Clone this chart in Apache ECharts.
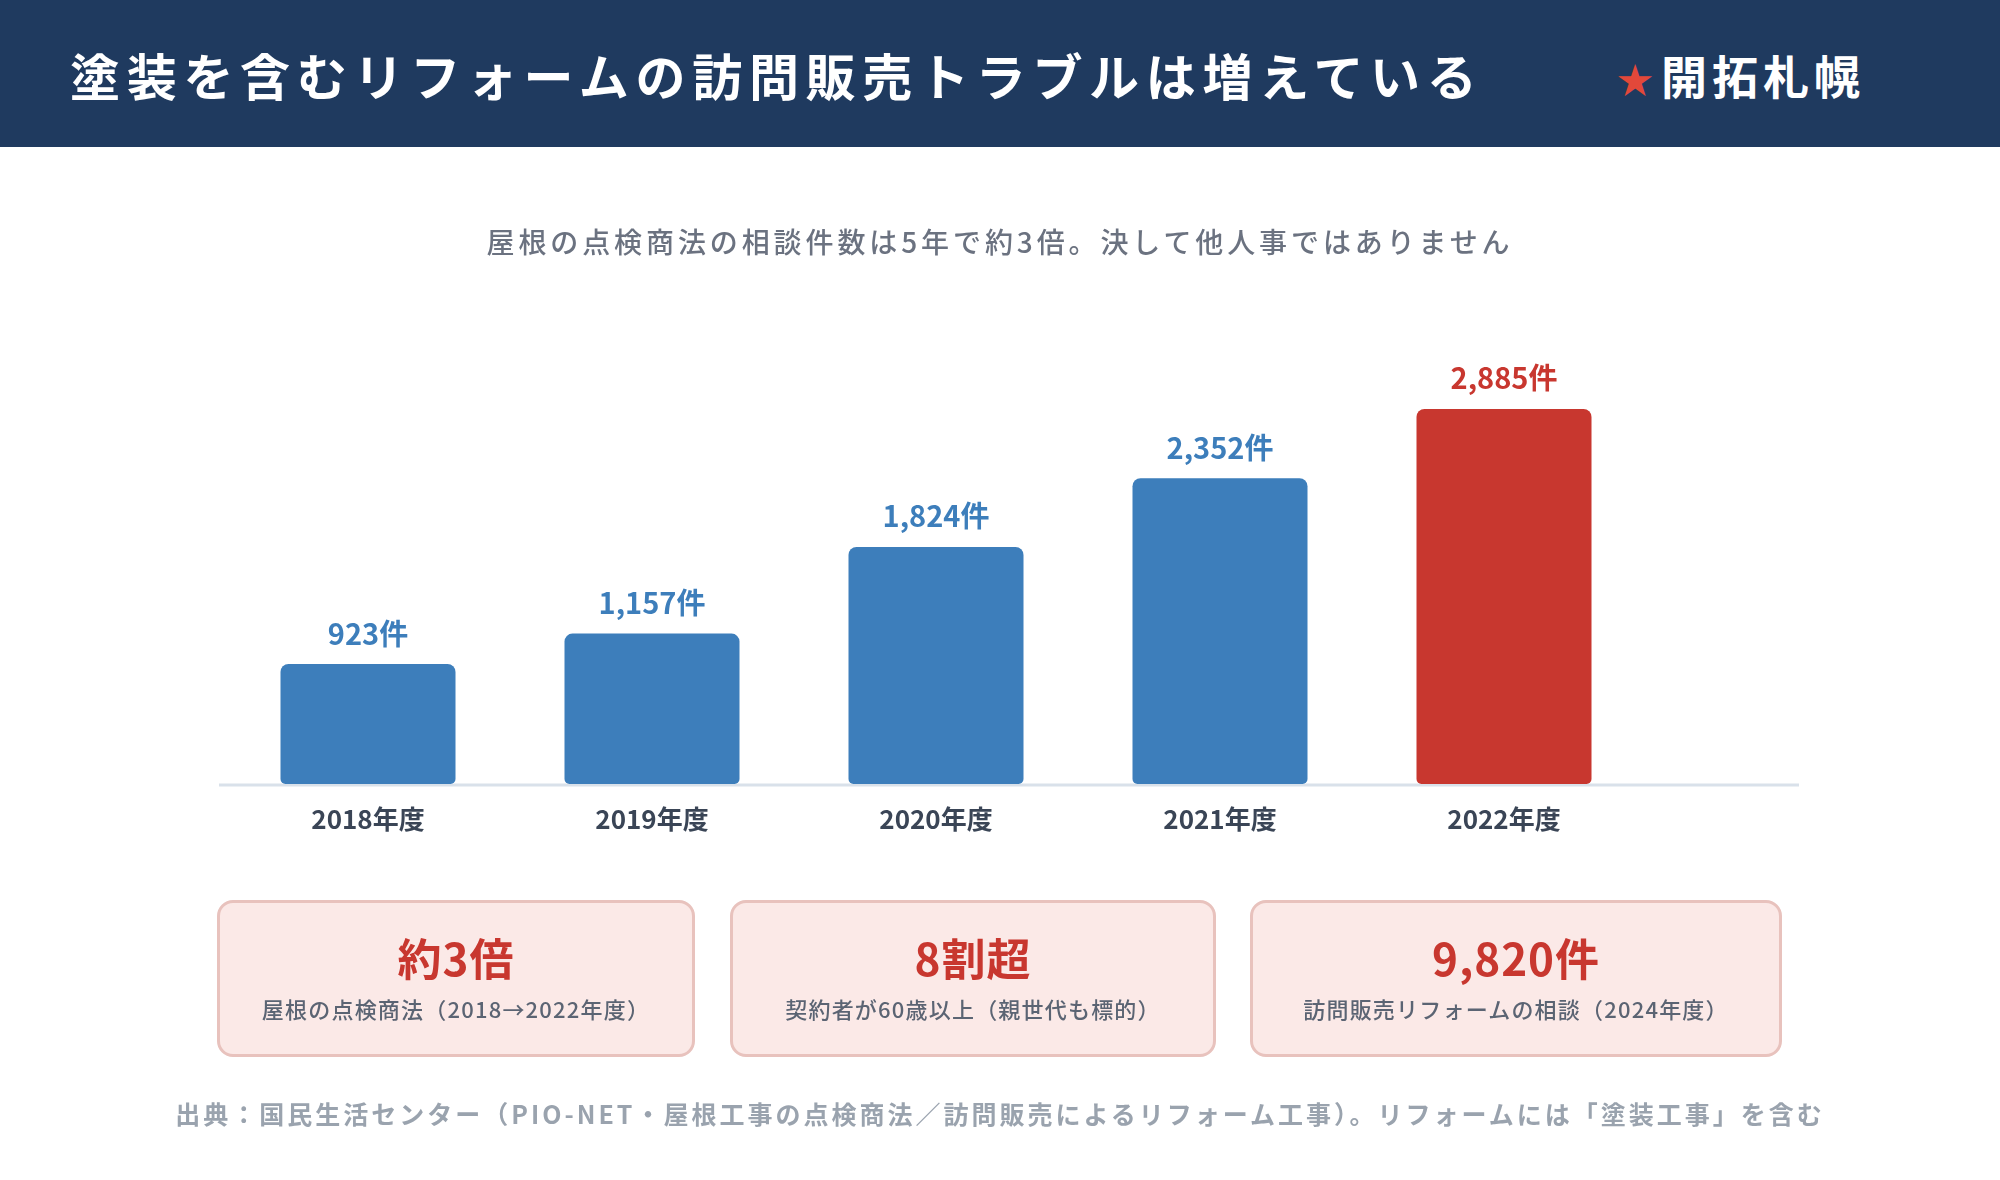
<!DOCTYPE html>
<html lang="ja">
<head>
<meta charset="utf-8">
<title>塗装を含むリフォームの訪問販売トラブルは増えている</title>
<script src="https://cdn.jsdelivr.net/npm/echarts@6/dist/echarts.min.js"></script>
<style>
  html, body { margin: 0; padding: 0; background: #ffffff; }
  body { width: 2000px; height: 1180px; position: relative; overflow: hidden;
         font-family: "Noto Sans CJK JP", "Noto Sans", sans-serif; }
  .main { position: absolute; left: 0; top: 0; width: 2000px; height: 1180px; }
  .header { position: absolute; left: 0; top: 0; width: 2000px; height: 147px; background: #1f3a5f; }
  .header .title { position: absolute; left: 70px; top: 44px; color: #fff; font-size: 50px;
                   font-weight: 700; letter-spacing: 6.7px; line-height: 60px; }
  .header .brand { position: absolute; left: 1617px; top: 44px; color: #fff; font-size: 46px;
                   font-weight: 700; letter-spacing: 5px; line-height: 60px; }
  .header .brand span { color: #e2483a; font-size: 36px; letter-spacing: 8px; }
  .sub { position: absolute; left: 0; width: 2000px; top: 221px; text-align: center;
         color: #6b7280; font-size: 28px; font-weight: 500; letter-spacing: 3.9px; line-height: 40px; }
  .box { position: absolute; top: 900px; height: 151px; background: #fbe9e7; border: 3px solid #e8c2bd;
         border-radius: 16px; box-sizing: content-box; text-align: center; }
  .box .big { position: absolute; left: 0; right: 0; top: 26px; color: #c8372f; font-size: 44px;
              font-weight: 700; line-height: 56px; letter-spacing: 1px; }
  .box .small { position: absolute; left: 0; right: 0; top: 89px; color: #5b6473; font-size: 22px;
                font-weight: 500; line-height: 32px; letter-spacing: 1.2px; }
  .foot { position: absolute; left: 0; width: 2000px; top: 1096px; text-align: center;
          color: #9aa3ae; font-size: 25px; font-weight: 700; letter-spacing: 3px; line-height: 34px; }
</style>
</head>
<body>
<div class="main"></div>
<div class="header">
  <div class="title">塗装を含むリフォームの訪問販売トラブルは増えている</div>
  <div class="brand"><span>★</span>開拓札幌</div>
</div>
<div class="sub">屋根の点検商法の相談件数は5年で約3倍。決して他人事ではありません</div>
<div class="box" style="left:217px;width:472px;"><div class="big">約3倍</div><div class="small">屋根の点検商法（2018→2022年度）</div></div>
<div class="box" style="left:730px;width:480px;"><div class="big">8割超</div><div class="small">契約者が60歳以上（親世代も標的）</div></div>
<div class="box" style="left:1250px;width:526px;"><div class="big">9,820件</div><div class="small">訪問販売リフォームの相談（2024年度）</div></div>
<div class="foot">出典：国民生活センター（PIO-NET・屋根工事の点検商法／訪問販売によるリフォーム工事）。リフォームには「塗装工事」を含む</div>

<script>
// 屋根の点検商法の相談件数
var years = ['2018年度', '2019年度', '2020年度', '2021年度', '2022年度'];
var counts = [923, 1157, 1824, 2352, 2885];
var barColors = ['#3d7ebb', '#3d7ebb', '#3d7ebb', '#3d7ebb', '#c8372f'];

(function() {
  // 1. 実例化
  var myChart = echarts.init(document.querySelector(".main"));

  var data = counts.map(function(v, i) {
    return {
      value: v,
      itemStyle: { color: barColors[i] },
      label: { color: barColors[i] }
    };
  });

  // 2. 配置
  var option = {
    animation: false,
    grid: {
      left: 226,
      right: 354,
      top: 394,
      bottom: 396
    },
    xAxis: {
      type: 'category',
      data: years,
      axisLine: { show: false },
      axisTick: { show: false },
      axisLabel: {
        margin: 22,
        color: '#3a4556',
        fontSize: 26,
        fontWeight: 'bold',
        fontFamily: 'Noto Sans CJK JP'
      }
    },
    yAxis: {
      type: 'value',
      min: 0,
      max: 3000,
      show: false,
      splitLine: { show: false }
    },
    // x軸の線（棒より少し広い）
    graphic: [
      {
        type: 'line',
        z: 0,
        shape: { x1: 219, y1: 785, x2: 1799, y2: 785 },
        style: { stroke: '#d9e1ea', lineWidth: 3 }
      }
    ],
    series: [
      {
        type: 'bar',
        barWidth: 175,
        z: 2,
        itemStyle: { borderRadius: [8, 8, 5, 5] },
        label: {
          show: true,
          position: 'top',
          distance: 16,
          fontSize: 29,
          fontWeight: 'bold',
          fontFamily: 'Noto Sans CJK JP',
          formatter: function(p) {
            return p.value.toLocaleString('en-US') + '件';
          }
        },
        data: data
      }
    ]
  };
  // 3. 設定
  myChart.setOption(option);
  window.addEventListener("resize", function() {
    myChart.resize();
  });
})();
</script>
</body>
</html>
